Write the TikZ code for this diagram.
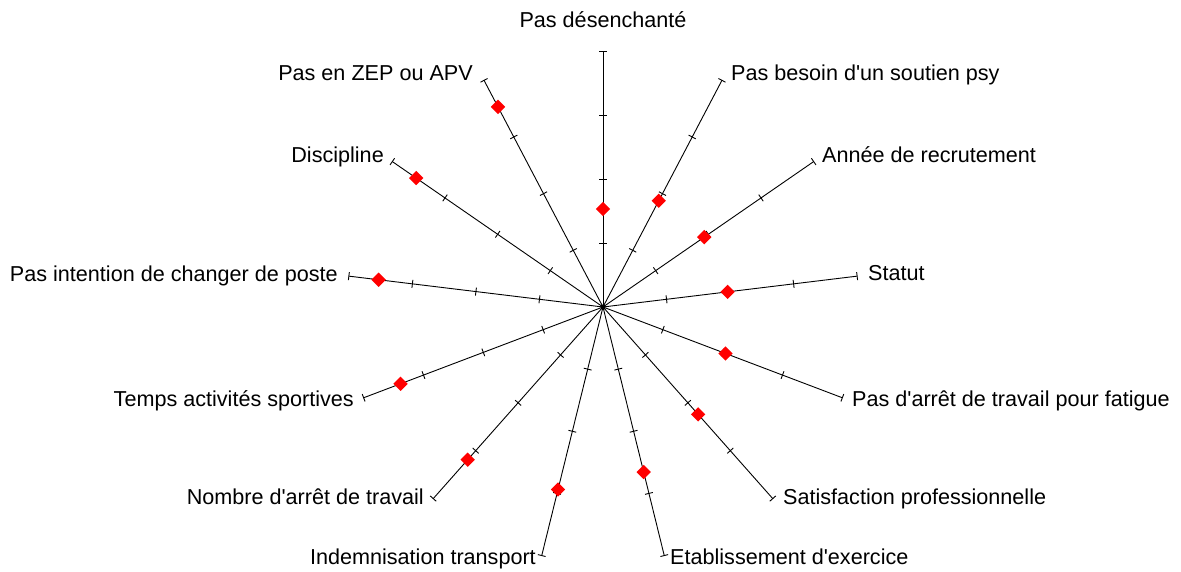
\documentclass[tikz,border=0pt]{standalone}
\usepackage{fontspec}
\setmainfont{Liberation Sans}
\usetikzlibrary{shapes.geometric}
\newcommand{\sq}{\textquotesingle}
\begin{document}
\begin{tikzpicture}[x=1pt,y=1pt,
  axisline/.style={line width=0.9pt,black},
  tickmark/.style={line width=0.9pt,black},
  datapt/.style={diamond,fill=red,draw=none,inner sep=0pt,minimum width=14.5pt,minimum height=14.5pt},
  lab/.style={inner sep=0pt,font=\fontsize{21.6}{25}\selectfont}]
\useasboundingbox (-603,-265) rectangle (578,307);
\node[circle,fill=black,inner sep=0pt,minimum size=5pt] (c) at (0,0) {};
\foreach \k/\v in {0/98,1/120,2/123,3/125.5,4/131,5/143.5,6/170,7/188,8/204,9/216.5,10/226,11/227,12/226}{
  \pgfmathsetmacro{\a}{90-\k*360/13}
  \coordinate (e\k) at (\a:256);
  \draw[axisline] (c.center) -- (e\k);
  \foreach \r in {64,128,192,256}{
    \draw[tickmark,rotate=\a] (\r,-4) -- (\r,4);
  }
  \node[datapt] (d\k) at (\a:\v) {};
}
\node[lab,anchor=base] (l0) at (0,279) {Pas désenchanté};
\node[lab,anchor=base west] (l1) at (128,226) {Pas besoin d\sq un soutien psy};
\node[lab,anchor=base west] (l2) at (219,144) {Année de recrutement};
\node[lab,anchor=base west] (l3) at (265,26) {Statut};
\node[lab,anchor=base west] (l4) at (249,-100) {Pas d\sq arrêt de travail pour fatigue};
\node[lab,anchor=base west] (l5) at (180,-198) {Satisfaction professionnelle};
\node[lab,anchor=base west] (l6) at (67,-258) {Etablissement d\sq exercice};
\node[lab,anchor=base east] (l7) at (-67,-258) {Indemnisation transport};
\node[lab,anchor=base east] (l8) at (-179,-198) {Nombre d\sq arrêt de travail};
\node[lab,anchor=base east] (l9) at (-249,-100) {Temps activités sportives};
\node[lab,anchor=base east] (l10) at (-265,25) {Pas intention de changer de poste};
\node[lab,anchor=base east] (l11) at (-219,144) {Discipline};
\node[lab,anchor=base east] (l12) at (-130,226) {Pas en ZEP ou APV};
\end{tikzpicture}
\end{document}
